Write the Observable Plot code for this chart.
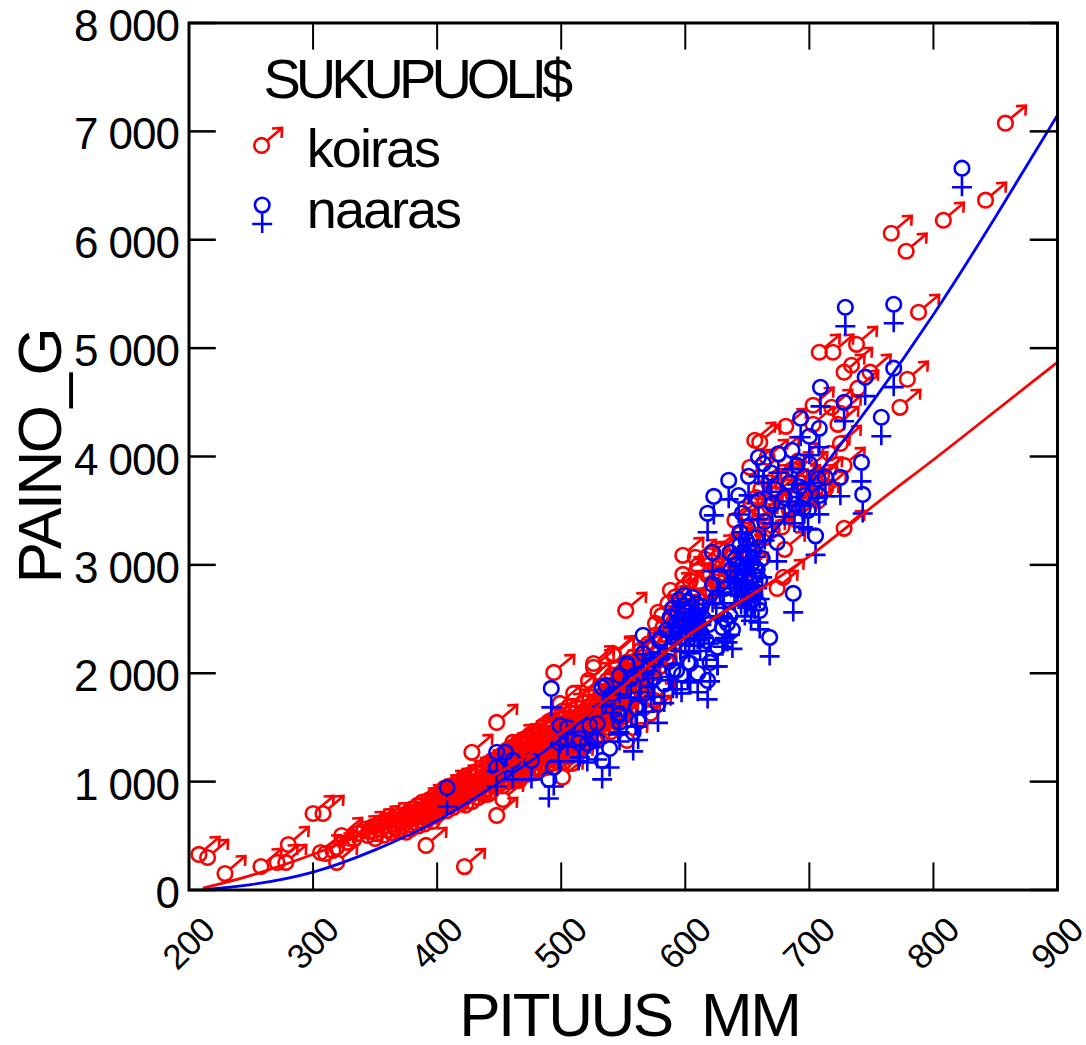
<!DOCTYPE html>
<html>
<head>
<meta charset="utf-8">
<script src="https://cdn.jsdelivr.net/npm/d3@7"></script>
<script src="https://cdn.jsdelivr.net/npm/@observablehq/plot@0.6"></script>
<style>
html,body{margin:0;padding:0;background:#fff}
text{font-family:"Liberation Sans",Arial,sans-serif}
g[font-size="44"] text{letter-spacing:-1px}
g[font-size="35"] text{letter-spacing:-1px}
g[font-size="62"] text{letter-spacing:-2.5px;white-space:pre}
g[font-size="56"] text{letter-spacing:-5px}
g[font-size="54"] text{letter-spacing:-2px}
</style>
</head>
<body>
<script>
const xTicks = [200,300,400,500,600,700,800,900];
const yTicks = [0,1000,2000,3000,4000,5000,6000,7000,8000];
const yTickLabels = ["0","1 000","2 000","3 000","4 000","5 000","6 000","7 000","8 000"];
const legendLabels = ["koiras","naaras"];

const curveX = [212,250,300,350,400,450,500,550,600,650,700,750,800,850,900];
const maleCurve = [20,135,330,560,800,1085,1450,1880,2330,2700,3080,3530,3970,4420,4870];
const femaleCurve = [5,50,165,370,640,995,1400,1920,2420,3000,3730,4490,5310,6210,7150];

const malePoints = [
[208,328],[215,300],[229,152],[258,217],[271,254],[278,254],[280,420],[300,706],[308,706],[306,346],[310,337],[319,254],[316,365],[323,503],[319,392],[328,440],[336,521],[333,470],[344,503],[350,475],[341,560],
[391,411],[422,216],[448,688],[453,835],[428,1270],[448,1546],[461,1362],[494,2008],[501,1040],[509,1168],[499,1722],[526,2055],[522,1934],[542,2180],[537,1594],[572,1630],[553,1380],[552,2580],[510,1815],[547,1980],[526,2090],[542,2165],[576,2460],[578,2562],[581,2534],[588,2765],[598,2912],[598,3088],[608,3070],
[345,540],[348,585],[351,520],[353,612],[355,560],[357,505],[358,592],[360,640],[361,555],[363,528],[365,611],[366,574],[368,652],[369,548],[371,622],[372,588],[374,684],[375,534],[376,641],[378,603],[379,566],[381,712],[382,661],[383,618],[385,592],[386,693],[387,642],[389,744],[390,609],[391,683],[392,652],[394,772],[395,701],[396,633],[398,731],[399,682],
[400,824],[401,762],[402,712],[404,790],[405,850],[406,781],[408,733],[409,812],[410,826],[412,880],[413,763],[414,842],[416,853],[417,804],[419,795],[420,905],[421,834],[423,784],[424,868],[425,951],[426,872],[428,816],[429,920],[430,982],[432,1010],[433,853],[434,940],[436,1022],[437,905],[438,972],[440,1060],[441,885],[442,1052],[444,1004],[445,1110],[446,958],[448,1102],[449,1031],[450,1175],[451,985],[453,1152],[454,1064],[455,1208],[456,1007],[458,1203],[459,1113],[460,1052],[461,1260],[463,1241],[464,1152],[465,1083],[466,1012],[468,1288],[469,1204],[470,1122],[471,1350],[473,1322],[474,1243],[475,1161],[476,1090],[478,1354],[479,1283],[480,1204],[481,1131],[483,1402],[484,1323],[485,1242],[486,1163],[488,1444],[489,1362],[490,1291],[491,1203],[493,1494],[494,1412],[495,1332],[496,1244],[498,1533],[499,1452],[500,1374],[501,1282],[502,1180],[503,1583],[504,1491],[505,1412],[506,1322],[507,1230],[508,1634],[509,1542],[510,1453],[511,1362],[512,1270],[513,1684],[514,1592],[515,1503],[516,1402],[517,1310],[518,1733],[519,1642],[520,1544],[521,1452],[523,1784],[524,1691],[525,1602],[526,1503],[527,1380],[528,1835],[529,1733],[530,1642],[531,1520],[532,1883],[533,1782],[534,1693],[535,1572],[537,1934],[538,1824],[539,1731],[540,1460],[541,1985],[542,1873],[543,1772],[545,2052],[546,1922],[548,1823],[549,2014],[551,1882],[552,1620],[553,2103],[555,1962],[557,1783],[558,2152],[560,2023],[562,1864],[563,1560],[564,2213],[566,2084],[568,1932],[570,2272],[572,2135],[574,2003],[575,1750],[576,2352],[578,2204],[580,2064],[582,2423],[584,2282],[586,2644],[587,2150],[588,2503],[590,2352],[592,2704],[594,2562],[596,2424],[598,2784],[600,2623],[602,2484],[604,2853],[606,2703],[608,2544],[610,2992],[612,2824],[614,2663],[616,3052],[618,2904],[620,2744],[622,3112],[624,2972],[626,2804],[628,3134],[630,2992],[632,2852],
[403,850],[407,870],[411,790],[415,900],[418,860],[422,930],[427,960],[431,900],[435,1000],[439,930],[443,970],[447,1060],[452,1090],[457,1120],[462,1180],[467,1150],[472,1220],[477,1290],[482,1260],[487,1330],[492,1370],[497,1420],[502,1470],[506,1520],[511,1560],[516,1610],[520,1650],[524,1590],[528,1640],[469,1090],[479,1130],[489,1220],[499,1310],[509,1410],[519,1490],[529,1560],[534,1620],[539,1680],[544,1720],[549,1760],[555,1830],[560,1900],
[384,780],[388,810],[393,830],[397,860],[402,900],[406,940],[411,960],[416,990],[421,1030],[426,1060],[431,1090],[436,1130],[441,1170],[446,1200],[451,1240],[456,1290],[461,1320],[466,1370],[471,1400],[476,1440],[481,1470],[486,1520],[491,1560],[496,1600],[501,1650],[506,1690],[428,890],[433,930],[438,880],[443,900],[453,960],[458,1000],[463,1020],[468,1040],[473,1070],[478,1080],[483,1110],[488,1130],[493,1170],[498,1190],[503,1230],[508,1260],[513,1300],[518,1340],[523,1360],[528,1400],[533,1430],[538,1500],[544,1550],[550,1600],[556,1680],
[635,3060],[637,2900],[640,3411],[641,3180],[643,3020],[645,3300],[647,3120],[649,3450],[650,2950],[652,3900],[653,3560],[654,3260],[656,4150],[657,3620],[658,3400],[660,4132],[661,3700],[662,3480],[664,3250],[666,3993],[667,3760],[668,3540],[670,3320],[672,3650],[674,2783],[675,4020],[676,3820],[677,3590],[678,3350],[679,2885],[680,3143],[681,4278],[682,3720],[684,3500],[686,3880],[687,3640],[689,3420],[691,3960],[692,3760],[694,3560],[696,3700],[698,3880],[700,3620],[703,4473],[703,4297],[705,3760],[707,3590],[708,4962],[710,3830],[713,3700],[716,4030],[718,4454],[719,4962],[723,4297],[725,4398],[725,4120],[728,3918],[728,4778],[728,3337],[734,4842],[738,5035],[739,4630],[749,4778],[773,4454],[779,4713],[788,5331],[766,6060],[778,5894],[808,6180],[842,6365],[858,7076]
];

const femalePoints = [
[408,946],[448,1270],[455,1270],[461,1196],[448,1131],[476,1196],[499,1519],[498,1362],[514,1362],[494,1131],[490,1020],[492,1860],[533,1869],[536,1888],[566,2350],[566,2183],[580,2322],[553,2073],[547,1980],[561,1685],[547,1630],[578,1717],[529,1537],[523,1519],[515,1399],[521,1352],[529,1380],[539,1306],[533,1196],[558,1454],[547,1546],[593,2027],[604,2091],[553,2091],[579,2303],[590,2027],[618,1934],[602,2100],[620,2100],[626,2239],[560,1685],[546,1611],[505,1500],[541,1810],[556,1950],[564,2000],[570,2050],[575,1960],[583,1900],[587,2110],[597,1990],[610,2000],[562,1560],[568,1820],[574,2130],
[585,2400],[588,2520],[590,2600],[592,2450],[594,2560],[595,2680],[596,2380],[597,2500],[598,2620],[599,2720],[600,2440],[601,2560],[602,2660],[603,2360],[604,2500],[605,2600],[606,2700],[607,2430],[608,2540],[609,2640],[610,2480],[611,2570],[612,2380],[613,2620],[615,2500],[617,2300],[619,2450],[626,2239],[630,2420],[632,2500],[634,2460],[636,2530],[638,2400],[622,2820],[625,2700],[628,2900],[631,2780],[634,2680],[637,2960],[640,2820],
[618,3476],[623,3632],[635,3780],[643,3640],[622,3116],[636,3116],[644,3300],[646,3476],[650,3347],[651,3817],[659,3596],[659,3992],[663,3933],[669,3850],[674,3208],[675,4025],[686,4057],[687,2737],[668,2331],[659,2644],[660,2580],[690,3917],[693,4353],[695,3522],[699,3503],[700,3933],[700,4187],[705,3268],[707,3794],[708,3641],[708,4260],[709,4638],[713,3808],[725,3808],[728,4500],[729,5377],[742,3946],[743,3650],[745,4732],[758,4362],[768,4815],[768,5405],[823,6660],
[640,3050],[642,2900],[644,3180],[645,2800],[646,3000],[647,3120],[648,2700],[648,2880],[649,3230],[649,2990],[650,2780],[650,3090],[651,2920],[652,3180],[652,2840],[653,2660],[654,3020],[655,3130],[655,2900],[656,2760],[657,3250],[658,2960],[660,2860],[662,3060],[664,3400],[670,3560],[672,3700],[680,3620],[684,3760],[688,3560],[692,3720],[696,3640]
];

const maleSymbol = {draw(c){
  c.moveTo(7.3,0); c.arc(0,0,7.3,0,2*Math.PI);
  c.moveTo(5.4,-4.8); c.lineTo(20.5,-17.5);
  c.moveTo(10.5,-17); c.lineTo(20.5,-17.5); c.lineTo(20,-7.5);
}};
const femaleSymbol = {draw(c){
  c.moveTo(7.3,0); c.arc(0,0,7.3,0,2*Math.PI);
  c.moveTo(0,7.3); c.lineTo(0,28);
  c.moveTo(-10,19); c.lineTo(10,19);
}};
const FONT = "Liberation Sans";
const fmtIdx = d => yTickLabels[yTicks.indexOf(d)];

const chart = Plot.plot({
  width:1086, height:1045,
  marginLeft:188.5, marginRight:29, marginTop:22.5, marginBottom:155.5,
  style:{fontFamily:FONT, background:"#fff", overflow:"visible"},
  x:{domain:[200,900], axis:null},
  y:{domain:[0,8000], axis:null},
  marks:[
    Plot.dot(malePoints,{x:d=>d[0],y:d=>d[1],symbol:maleSymbol,fill:"none",stroke:"#f00",strokeWidth:2.6,r:4.5}),
    Plot.dot(femalePoints,{x:d=>d[0],y:d=>d[1],symbol:femaleSymbol,fill:"none",stroke:"#00f",strokeWidth:2.6,r:4.5}),
    Plot.line(curveX.map((x,i)=>[x,femaleCurve[i]]),{x:d=>d[0],y:d=>d[1],stroke:"#00f",strokeWidth:2.8,curve:"natural"}),
    Plot.line(curveX.map((x,i)=>[x,maleCurve[i]]),{x:d=>d[0],y:d=>d[1],stroke:"#f00",strokeWidth:2.8,curve:"natural"}),
    // inward ticks on all four sides
    Plot.ruleX(xTicks,{x:d=>d,y1:0,y2:250,stroke:"#000",strokeWidth:2}),
    Plot.ruleX(xTicks,{x:d=>d,y1:7750,y2:8000,stroke:"#000",strokeWidth:2}),
    Plot.ruleY(yTicks,{y:d=>d,x1:200,x2:222,stroke:"#000",strokeWidth:2.5}),
    Plot.ruleY(yTicks,{y:d=>d,x1:878,x2:900,stroke:"#000",strokeWidth:2.5}),
    Plot.frame({stroke:"#000",strokeWidth:3}),
    // tick labels
    Plot.text(yTicks,{x:()=>200,y:d=>d,text:fmtIdx,textAnchor:"end",dx:-10,dy:4,fontSize:44,fill:"#000"}),
    Plot.text(xTicks,{x:d=>d,y:()=>0,text:d=>String(d),rotate:-45,dy:54,fontSize:35,fill:"#000"}),
    // axis titles
    Plot.text(["PAINO_G"],{frameAnchor:"left",textAnchor:"middle",dx:-148,rotate:-90,fontSize:62,fill:"#000"}),
    Plot.text(["PITUUS  MM"],{frameAnchor:"bottom",textAnchor:"middle",dy:146,dx:6,fontSize:62,fill:"#000"}),
    // legend, inside the frame
    Plot.text(["SUKUPUOLI$"],{x:()=>260,y:()=>7470,textAnchor:"start",fontSize:56,fill:"#000"}),
    Plot.dot([legendLabels[0]],{x:()=>258.5,y:()=>6870,symbol:maleSymbol,fill:"none",stroke:"#f00",strokeWidth:2.6,r:4.5}),
    Plot.dot([legendLabels[1]],{x:()=>259,y:()=>6320,symbol:femaleSymbol,fill:"none",stroke:"#00f",strokeWidth:2.6,r:4.5}),
    Plot.text([legendLabels[0]],{x:()=>295,y:()=>6830,text:d=>d,textAnchor:"start",fontSize:54,fill:"#000"}),
    Plot.text([legendLabels[1]],{x:()=>295,y:()=>6270,text:d=>d,textAnchor:"start",fontSize:54,fill:"#000"})
  ]
});
document.body.appendChild(chart);
</script>
</body>
</html>
